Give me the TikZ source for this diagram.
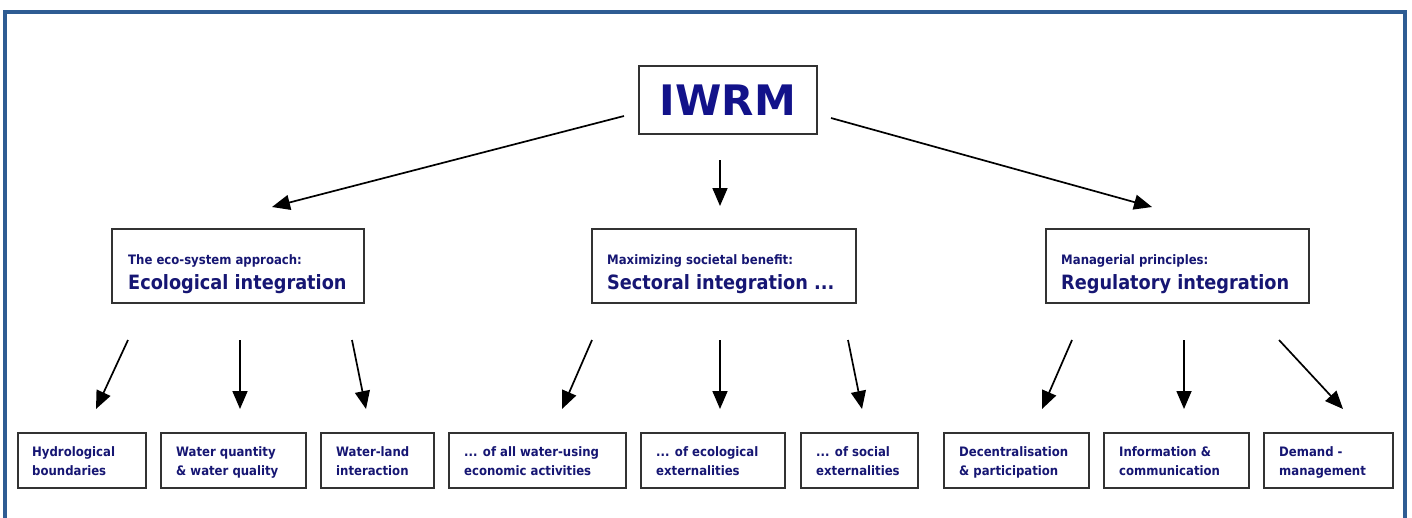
\documentclass[tikz,border=0pt]{standalone}
\usepackage{fontspec}
\setmainfont{DejaVu Sans Condensed}
\newfontfamily\widefont{DejaVu Sans}
\usetikzlibrary{arrows.meta,calc}
\definecolor{navy}{RGB}{22,22,115}
\definecolor{titleblue}{RGB}{18,18,138}
\definecolor{framebl}{RGB}{46,92,147}
\definecolor{boxline}{RGB}{50,50,50}
\begin{document}
\begin{tikzpicture}[x=1pt,y=-1pt,
  box/.style={draw=boxline,line width=1.7pt,fill=white,inner sep=0pt,anchor=north west},
  lbl/.style={anchor=base west,inner sep=0pt,text=navy,font=\bfseries\fontsize{13}{15}\selectfont},
  head/.style={anchor=base west,inner sep=0pt,text=navy,font=\bfseries\fontsize{19.7}{22}\selectfont},
  arr/.style={line width=1.7pt,-{Triangle[length=18pt,width=15pt]}},
]
\useasboundingbox (0,0) rectangle (1412,517);
\fill[white] (0,0) rectangle (1412,517);
\clip (0,0) rectangle (1412,517);

% outer frame (runs past the lower edge)
\draw[framebl,line width=3.6pt] (5,12) rectangle (1405,560);

% top node
\node[box,minimum width=178pt,minimum height=68pt,text=titleblue,
      font=\widefont\bfseries\fontsize{42}{42}\selectfont] (iwrm) at (638,65) {IWRM};

% second level
\node[box,minimum width=252pt,minimum height=74pt] (eco) at (111,228) {};
\node[lbl] (ecoa) at ($(eco.north west)+(17,36)$) {The eco-system approach:};
\node[head] (ecob) at ($(eco.north west)+(17,61)$) {Ecological integration};

\node[box,minimum width=264pt,minimum height=74pt] (sec) at (591,228) {};
\node[lbl] (seca) at ($(sec.north west)+(16,36)$) {Maximizing societal benefit:};
\node[head] (secb) at ($(sec.north west)+(16,61)$) {Sectoral integration ...};

\node[box,minimum width=263pt,minimum height=74pt] (reg) at (1045,228) {};
\node[lbl] (rega) at ($(reg.north west)+(16,36)$) {Managerial principles:};
\node[head] (regb) at ($(reg.north west)+(16,61)$) {Regulatory integration};

% third level
\node[box,minimum width=128pt,minimum height=55pt] (b1) at (17,432) {};
\node[box,minimum width=145pt,minimum height=55pt] (b2) at (160,432) {};
\node[box,minimum width=113pt,minimum height=55pt] (b3) at (320,432) {};
\node[box,minimum width=177pt,minimum height=55pt] (b4) at (448,432) {};
\node[box,minimum width=144pt,minimum height=55pt] (b5) at (640,432) {};
\node[box,minimum width=117pt,minimum height=55pt] (b6) at (800,432) {};
\node[box,minimum width=145pt,minimum height=55pt] (b7) at (943,432) {};
\node[box,minimum width=145pt,minimum height=55pt] (b8) at (1103,432) {};
\node[box,minimum width=129pt,minimum height=55pt] (b9) at (1263,432) {};

\node[lbl] (b1a) at ($(b1.north west)+(15,24)$) {Hydrological};
\node[lbl] (b1b) at ($(b1.north west)+(15,43)$) {boundaries};
\node[lbl] (b2a) at ($(b2.north west)+(16,24)$) {Water quantity};
\node[lbl] (b2b) at ($(b2.north west)+(16,43)$) {\& water quality};
\node[lbl] (b3a) at ($(b3.north west)+(16,24)$) {Water-land};
\node[lbl] (b3b) at ($(b3.north west)+(16,43)$) {interaction};
\node[lbl] (b4a) at ($(b4.north west)+(16,24)$) {... of all water-using};
\node[lbl] (b4b) at ($(b4.north west)+(16,43)$) {economic activities};
\node[lbl] (b5a) at ($(b5.north west)+(16,24)$) {... of ecological};
\node[lbl] (b5b) at ($(b5.north west)+(16,43)$) {externalities};
\node[lbl] (b6a) at ($(b6.north west)+(16,24)$) {... of social};
\node[lbl] (b6b) at ($(b6.north west)+(16,43)$) {externalities};
\node[lbl] (b7a) at ($(b7.north west)+(16,24)$) {Decentralisation};
\node[lbl] (b7b) at ($(b7.north west)+(16,43)$) {\& participation};
\node[lbl] (b8a) at ($(b8.north west)+(16,24)$) {Information \&};
\node[lbl] (b8b) at ($(b8.north west)+(16,43)$) {communication};
\node[lbl] (b9a) at ($(b9.north west)+(16,24)$) {Demand -};
\node[lbl] (b9b) at ($(b9.north west)+(16,43)$) {management};

% arrow end points
\coordinate (t1s) at (624,116);  \coordinate (t1e) at (272,207);
\coordinate (t2s) at (720,160);  \coordinate (t2e) at (720,206);
\coordinate (t3s) at (831,118);  \coordinate (t3e) at (1152,207);

\coordinate (e1s) at (128,340);  \coordinate (e1e) at (96,409);
\coordinate (e2s) at (240,340);  \coordinate (e2e) at (240,409);
\coordinate (e3s) at (352,340);  \coordinate (e3e) at (366,409);
\coordinate (s1s) at (592,340);  \coordinate (s1e) at (562,409);
\coordinate (s2s) at (720,340);  \coordinate (s2e) at (720,409);
\coordinate (s3s) at (848,340);  \coordinate (s3e) at (862,409);
\coordinate (r1s) at (1072,340); \coordinate (r1e) at (1042,409);
\coordinate (r2s) at (1184,340); \coordinate (r2e) at (1184,409);
\coordinate (r3s) at (1279,340); \coordinate (r3e) at (1343,409);

\foreach \a in {t1,t2,t3,e1,e2,e3,s1,s2,s3,r1,r2,r3}
  \draw[arr] (\a s) -- (\a e);
\end{tikzpicture}
\end{document}
